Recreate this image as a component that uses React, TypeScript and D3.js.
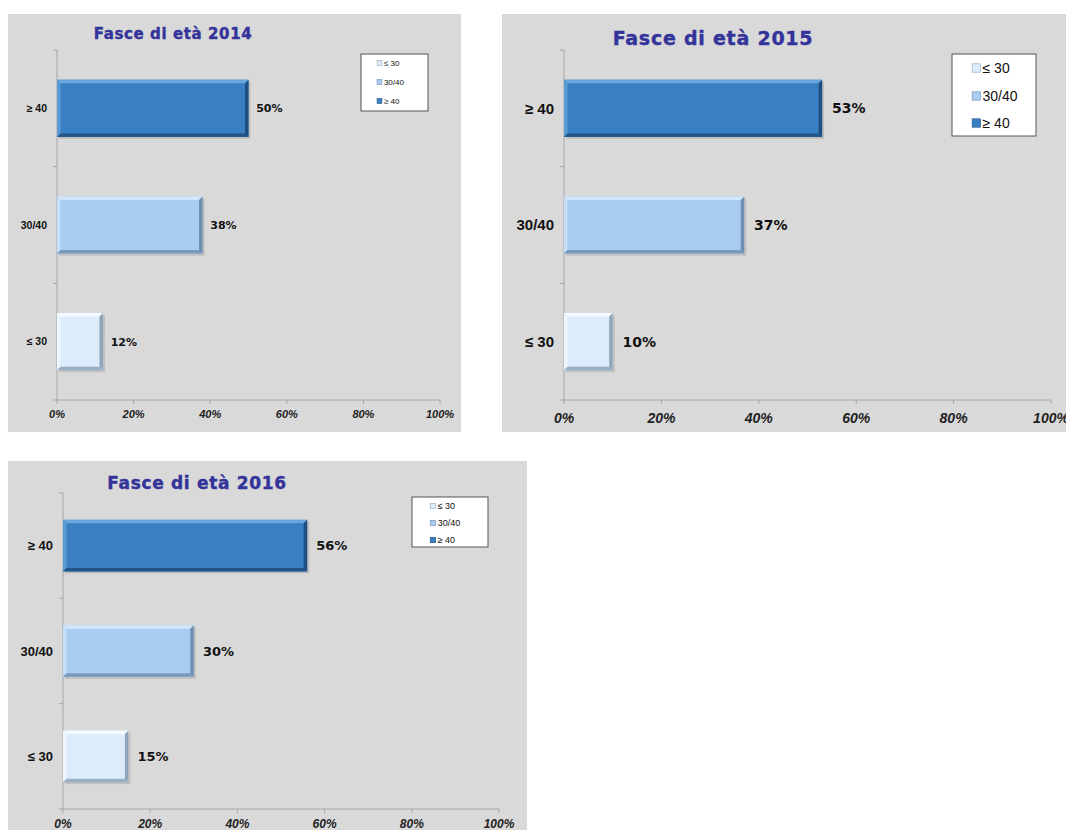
import React from "react";
import * as d3 from "d3";

const categories = ["≥ 40", "30/40", "≤ 30"];
const legendItems = ["≤ 30", "30/40", "≥ 40"];
const years = ["2014", "2015", "2016"];
const values2014 = [50, 38, 12];
const values2015 = [53, 37, 10];
const values2016 = [56, 30, 15];
const xTicks = [0, 20, 40, 60, 80, 100];

const colors: Record<string, [string, string, string]> = {
  "≥ 40": ["#3a7fc1", "#6aa6dd", "#1f4f80"],
  "30/40": ["#a9cdf1", "#d0e6fb", "#6f8fb0"],
  "≤ 30": ["#dcecfb", "#f3f9ff", "#8fa5ba"],
};

type Cfg = {
  panel: [number, number, number, number];
  plot: [number, number, number, number]; // x0, x1, y0, y1
  title: [number, number, number];
  catFont: number;
  valFont: number;
  tickFont: number;
  tickOffset: number;
  legend: [number, number, number, number];
  legendFont: number;
  legendRows: number[];
};

const cfgs: Cfg[] = [
  {
    panel: [8, 14, 453, 418],
    plot: [57, 440, 50, 400],
    title: [173, 39, 15],
    catFont: 10.5,
    valFont: 11,
    tickFont: 11,
    tickOffset: 18,
    legend: [361, 54, 67, 57],
    legendFont: 8,
    legendRows: [63, 82, 101],
  },
  {
    panel: [502, 14, 570, 418],
    plot: [564, 1051, 50, 400],
    title: [713, 45, 19],
    catFont: 15,
    valFont: 14,
    tickFont: 14,
    tickOffset: 23,
    legend: [952, 54, 84, 82],
    legendFont: 14,
    legendRows: [68, 96, 123],
  },
  {
    panel: [8, 461, 519, 380],
    plot: [63, 499, 493, 809],
    title: [197, 489, 17],
    catFont: 13,
    valFont: 13,
    tickFont: 12,
    tickOffset: 19,
    legend: [412, 497, 76, 50],
    legendFont: 9,
    legendRows: [506, 523, 540],
  },
];

const dataSets = [values2014, values2015, values2016];

function Bar({ x, y, w, h, cat }: { x: number; y: number; w: number; h: number; cat: string }) {
  const [base, light, dark] = colors[cat];
  const b = 3.5;
  return (
    <g>
      <rect x={x + 2} y={y + 2} width={w} height={h} fill="#000" opacity={0.12} />
      <rect x={x} y={y} width={w} height={h} fill={base} />
      <polygon points={`${x},${y} ${x + w},${y} ${x + w - b},${y + b} ${x + b},${y + b}`} fill={light} />
      <polygon points={`${x},${y} ${x + b},${y + b} ${x + b},${y + h - b} ${x},${y + h}`} fill={light} opacity={0.7} />
      <polygon points={`${x + w},${y} ${x + w},${y + h} ${x + w - b},${y + h - b} ${x + w - b},${y + b}`} fill={dark} />
      <polygon points={`${x},${y + h} ${x + w},${y + h} ${x + w - b},${y + h - b} ${x + b},${y + h - b}`} fill={dark} opacity={0.85} />
    </g>
  );
}

const SANS = "'Liberation Sans', Arial, sans-serif";
const WIDE = "'DejaVu Sans', 'Liberation Sans', sans-serif";

function Chart({ cfg, values, year }: { cfg: Cfg; values: number[]; year: string }) {
  const [px, py, pw, ph] = cfg.panel;
  const [x0, x1, y0, y1] = cfg.plot;
  const x = d3.scaleLinear().domain([0, 100]).range([x0, x1]);
  const y = d3.scaleBand().domain(categories).range([y0, y1]).paddingInner(0.51).paddingOuter(0.255);
  const boundaries = d3.range(categories.length + 1).map((i) => y0 + ((y1 - y0) * i) / categories.length);
  const [lx, ly, lw, lh] = cfg.legend;
  const ms = cfg.legendFont * 0.6;
  return (
    <g>
      <rect x={px} y={py} width={pw} height={ph} fill="#d9d9d9" />
      <text
        x={cfg.title[0]}
        y={cfg.title[1]}
        textAnchor="middle"
        fontFamily={WIDE}
        fontWeight="bold"
        fontSize={cfg.title[2]}
        letterSpacing={cfg.title[2] * 0.04}
        fill="#333399"
        stroke="#333399"
        strokeWidth={0.4}
      >
        {`Fasce di età ${year}`}
      </text>
      <line x1={x0} x2={x0} y1={y0} y2={y1} stroke="#a6a6a6" strokeWidth={1} />
      {boundaries.map((b, i) => (
        <line key={i} x1={x0 - 4} x2={x0} y1={b} y2={b} stroke="#a6a6a6" />
      ))}
      <line x1={x0} x2={x1} y1={y1} y2={y1} stroke="#a6a6a6" strokeWidth={1} />
      {xTicks.map((t) => (
        <g key={t}>
          <line x1={x(t)} x2={x(t)} y1={y1} y2={y1 + 4} stroke="#a6a6a6" />
          <text
            x={x(t)}
            y={y1 + cfg.tickOffset}
            textAnchor="middle"
            fontFamily={SANS}
            fontWeight="bold"
            fontStyle="italic"
            fontSize={cfg.tickFont}
            fill="#222"
          >
            {`${t}%`}
          </text>
        </g>
      ))}
      {categories.map((c, i) => {
        const by = y(c)!;
        const bh = y.bandwidth();
        const bx = x(0);
        const bw = x(values[i]) - x(0);
        return (
          <g key={c}>
            <text
              x={x0 - 10}
              y={by + bh / 2}
              dy="0.35em"
              textAnchor="end"
              fontFamily={SANS}
              fontWeight="bold"
              fontSize={cfg.catFont}
              fill="#111"
            >
              {c}
            </text>
            <Bar x={bx} y={by} w={bw} h={bh} cat={c} />
            <text
              x={bx + bw + cfg.valFont * 0.7}
              y={by + bh / 2}
              dy="0.35em"
              fontFamily={WIDE}
              fontWeight="bold"
              fontSize={cfg.valFont}
              fill="#111"
            >
              {`${values[i]}%`}
            </text>
          </g>
        );
      })}
      <rect x={lx} y={ly} width={lw} height={lh} fill="#fff" stroke="#555" strokeWidth={1} />
      {legendItems.map((c, i) => {
        const ry = cfg.legendRows[i];
        const mx = lx + lw * 0.24;
        return (
          <g key={c}>
            <rect x={mx} y={ry - ms / 2} width={ms} height={ms} fill={colors[c][0]} stroke={colors[c][2]} strokeWidth={0.6} />
            <text
              x={mx + ms + 2}
              y={ry}
              dy="0.35em"
              fontFamily={SANS}
              fontSize={cfg.legendFont}
              fill="#111"
            >
              {c}
            </text>
          </g>
        );
      })}
    </g>
  );
}

export default function App() {
  return (
    <svg
      width={1066}
      height={830}
      style={{ position: "absolute", left: 0, top: 0, display: "block", background: "#fff" }}
    >
      {cfgs.map((cfg, i) => (
        <Chart key={i} cfg={cfg} values={dataSets[i]} year={years[i]} />
      ))}
    </svg>
  );
}
